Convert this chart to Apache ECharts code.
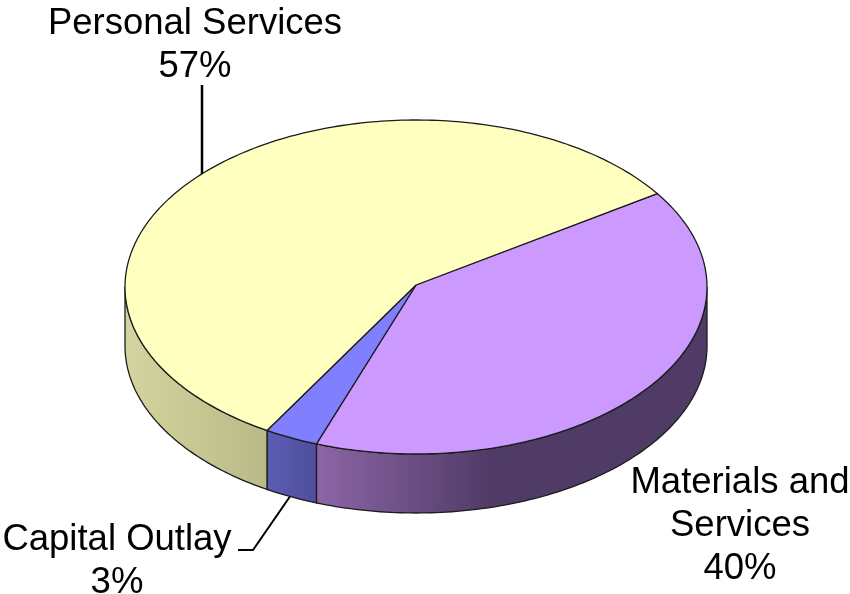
<!DOCTYPE html>
<html lang="en">
<head>
  <meta charset="UTF-8">
  <title>Personal Services, Materials and Services, Capital Outlay</title>
  <script src="https://cdnjs.cloudflare.com/ajax/libs/echarts/6.0.0/echarts.min.js"></script>
  <style>
    body { margin: 0; padding: 0; background: #fff; }
    #main { width: 850px; height: 594px; }
  </style>
</head>
<body>
  <div id="main"></div>
  <script>
    // data, in drawing order (clockwise from the purple slice)
    const categories = ['Materials and Services', 'Capital Outlay', 'Personal Services'];
    const shares = [40, 3, 57];

    // colours per slice
    const topColors = ['#CC99FF', '#8080FF', '#FFFFC0'];
    const sideStops = [
      [[0, '#8C66A6'], [0.45, '#503A66'], [1, '#503A66']],
      [[0, '#5C5CB4'], [1, '#4E4E9C']],
      [[0, '#D4D4A0'], [1, '#BABA88']]
    ];

    // tilted disc
    const cx = 416, cy = 287, apexY = 285, rx = 291, ry = 167, depth = 59;
    const startAngle = -34; // degrees, clockwise from east

    const chart = echarts.init(document.getElementById('main'), null, { renderer: 'canvas' });

    const total = shares.reduce((a, b) => a + b, 0);

    function arcPoints(from, to, dy) {
      const pts = [];
      const n = Math.max(2, Math.ceil(Math.abs(to - from)));
      for (let i = 0; i <= n; i++) {
        const t = (from + (to - from) * i / n) * Math.PI / 180;
        pts.push([cx + rx * Math.cos(t), cy + dy + ry * Math.sin(t)]);
      }
      return pts;
    }

    function renderSlice(params, api) {
      const i = params.dataIndex;
      let before = 0;
      for (let k = 0; k < i; k++) before += shares[k];
      const a0 = startAngle + before / total * 360;
      const a1 = a0 + api.value(0) / total * 360;
      const children = [];

      // side wall: only the part of the rim facing the viewer
      const s0 = Math.max(a0, 0), s1 = Math.min(a1, 180);
      if (s1 > s0) {
        const upper = arcPoints(s0, s1, 0);
        const lower = arcPoints(s1, s0, depth);
        const xs = upper.map(p => p[0]);
        const left = Math.min(...xs), right = Math.max(...xs);
        children.push({
          type: 'polygon',
          shape: { points: upper.concat(lower) },
          style: {
            fill: {
              type: 'linear', global: true,
              x: left, y: 0, x2: right, y2: 0,
              // stops run left to right on screen
              colorStops: sideStops[i].map(s => ({ offset: s[0], color: s[1] }))
            },
            stroke: '#1c1c1c', lineWidth: 1.3
          }
        });
      }

      // top face
      children.push({
        type: 'polygon',
        shape: { points: [[cx, apexY]].concat(arcPoints(a0, a1, 0)) },
        style: { fill: topColors[i], stroke: '#1c1c1c', lineWidth: 1.3, lineJoin: 'round' }
      });
      return { type: 'group', children: children };
    }

    const labelFont = '36.5px "Liberation Sans", Arial, sans-serif';
    const labels = [
      { text: 'Personal Services\n57%', x: 195, y: 2 },
      { text: 'Materials and\nServices\n40%', x: 740, y: 461 },
      { text: 'Capital Outlay\n3%', x: 117, y: 518 }
    ];

    const option = {
      animation: false,
      series: [{
        type: 'custom',
        coordinateSystem: 'none',
        renderItem: renderSlice,
        data: shares.map((v, i) => ({ name: categories[i], value: [v] }))
      }],
      graphic: labels.map(l => ({
        type: 'text', x: l.x, y: l.y, silent: true,
        style: { text: l.text, font: labelFont, fill: '#000', align: 'center', lineHeight: 43 }
      })).concat([
        {
          type: 'polyline', silent: true,
          shape: { points: [[202, 85], [202, 175]] },
          style: { stroke: '#000', lineWidth: 2.5, fill: null }
        },
        {
          type: 'polyline', silent: true,
          shape: { points: [[238, 550], [253, 550], [291, 495]] },
          style: { stroke: '#000', lineWidth: 2, fill: null }
        }
      ])
    };

    chart.setOption(option);
  </script>
</body>
</html>
